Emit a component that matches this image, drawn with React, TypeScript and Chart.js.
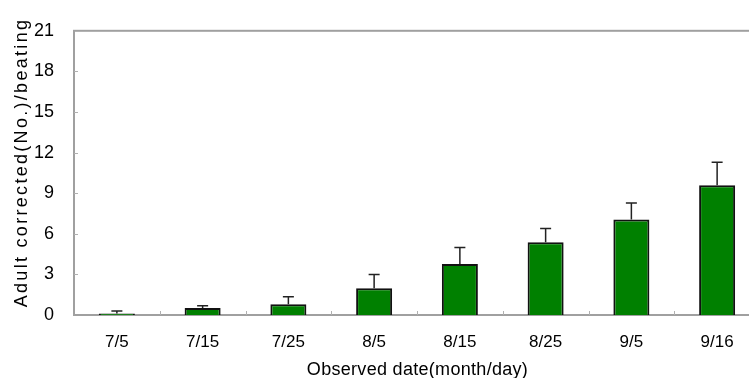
import React, { useEffect, useRef } from "react";
import { Chart, registerables } from "chart.js";

Chart.register(...registerables);

const categories = ["7/5", "7/15", "7/25", "8/5", "8/15", "8/25", "9/5", "9/16"];
const means = [0.12, 0.51, 0.79, 1.98, 3.77, 5.37, 7.05, 9.58];
const errors = [0.18, 0.17, 0.56, 1.02, 1.21, 1.03, 1.23, 1.7];
const yMin = 0;
const yMax = 21;
const yStep = 3;
const xTitle = "Observed date(month/day)";
const yTitle = "Adult corrected(No.)/beating";

const FONT = "'Liberation Sans', Arial, sans-serif";

const framePlugin = {
  id: "frame",
  beforeDatasetsDraw(chart: any) {
    const { ctx, chartArea } = chart;
    const { left, right, top, bottom } = chartArea;
    ctx.save();
    ctx.strokeStyle = "#a0a0a0";
    ctx.lineWidth = 2;
    ctx.strokeRect(left, top, right - left, bottom - top);
    ctx.lineWidth = 1;
    ctx.strokeStyle = "#b0b0b0";
    const ys = chart.scales.y;
    for (let v = yMin + yStep; v < yMax; v += yStep) {
      const py = Math.round(ys.getPixelForValue(v)) + 0.5;
      ctx.beginPath();
      ctx.moveTo(left, py);
      ctx.lineTo(left + 4, py);
      ctx.stroke();
    }
    const xs = chart.scales.x;
    for (let i = 1; i < categories.length; i++) {
      const px =
        Math.round((xs.getPixelForValue(i - 1) + xs.getPixelForValue(i)) / 2) + 0.5;
      ctx.beginPath();
      ctx.moveTo(px, bottom);
      ctx.lineTo(px, bottom - 4);
      ctx.stroke();
    }
    ctx.restore();
  },
  afterDatasetsDraw(chart: any) {
    const { ctx } = chart;
    const meta = chart.getDatasetMeta(0);
    const ys = chart.scales.y;
    ctx.save();
    ctx.strokeStyle = "#222";
    ctx.lineWidth = 1.5;
    meta.data.forEach((bar: any, i: number) => {
      const x = bar.x;
      const y0 = ys.getPixelForValue(means[i]);
      const y1 = ys.getPixelForValue(means[i] + errors[i]);
      ctx.beginPath();
      ctx.moveTo(x, y0);
      ctx.lineTo(x, y1);
      ctx.moveTo(x - 5.5, y1);
      ctx.lineTo(x + 5.5, y1);
      ctx.stroke();
    });
    ctx.restore();
  },
  afterDraw(chart: any) {
    const { ctx } = chart;
    ctx.save();
    ctx.fillStyle = "#000";
    ctx.font = `18px ${FONT}`;
    (ctx as any).letterSpacing = "0.3px";
    ctx.textAlign = "center";
    ctx.textBaseline = "alphabetic";
    ctx.fillText(xTitle, 417.5, 375);
    (ctx as any).letterSpacing = "2.3px";
    ctx.translate(27, 162.5);
    ctx.rotate(-Math.PI / 2);
    ctx.fillText(yTitle, 0, 0);
    ctx.restore();
  },
};

export default function App() {
  const ref = useRef<HTMLCanvasElement | null>(null);
  useEffect(() => {
    if (!ref.current) return;
    const chart = new Chart(ref.current, {
      type: "bar",
      data: {
        labels: categories,
        datasets: [
          {
            data: means,
            backgroundColor: "#008000",
            borderColor: "#111",
            borderWidth: 2,
            barPercentage: 0.42,
            categoryPercentage: 1,
          },
        ],
      },
      options: {
        responsive: false,
        animation: false,
        devicePixelRatio: 1,
        layout: { padding: { top: 14, right: 12, bottom: 0, left: 0 } },
        plugins: {
          legend: { display: false },
          tooltip: { enabled: false },
          title: { display: false },
        },
        scales: {
          x: {
            grid: { display: false, drawTicks: false },
            border: { display: false },
            ticks: {
              color: "#000",
              font: { family: FONT, size: 17 },
              padding: 17,
              maxRotation: 0,
            },
            afterFit(scale: any) {
              scale.height = 63;
            },
          },
          y: {
            min: yMin,
            max: yMax,
            grid: { display: false, drawTicks: false },
            border: { display: false },
            ticks: {
              stepSize: yStep,
              color: "#000",
              font: { family: FONT, size: 18 },
              padding: 20,
            },
            afterFit(scale: any) {
              scale.width = 74;
            },
          },
        },
      },
      plugins: [framePlugin],
    });
    return () => chart.destroy();
  }, []);
  return (
    <div
      style={{
        position: "fixed",
        left: 0,
        top: 0,
        width: 749,
        height: 378,
        overflow: "hidden",
        background: "#fff",
      }}
    >
      <canvas ref={ref} width={772} height={378} style={{ display: "block" }} />
    </div>
  );
}
